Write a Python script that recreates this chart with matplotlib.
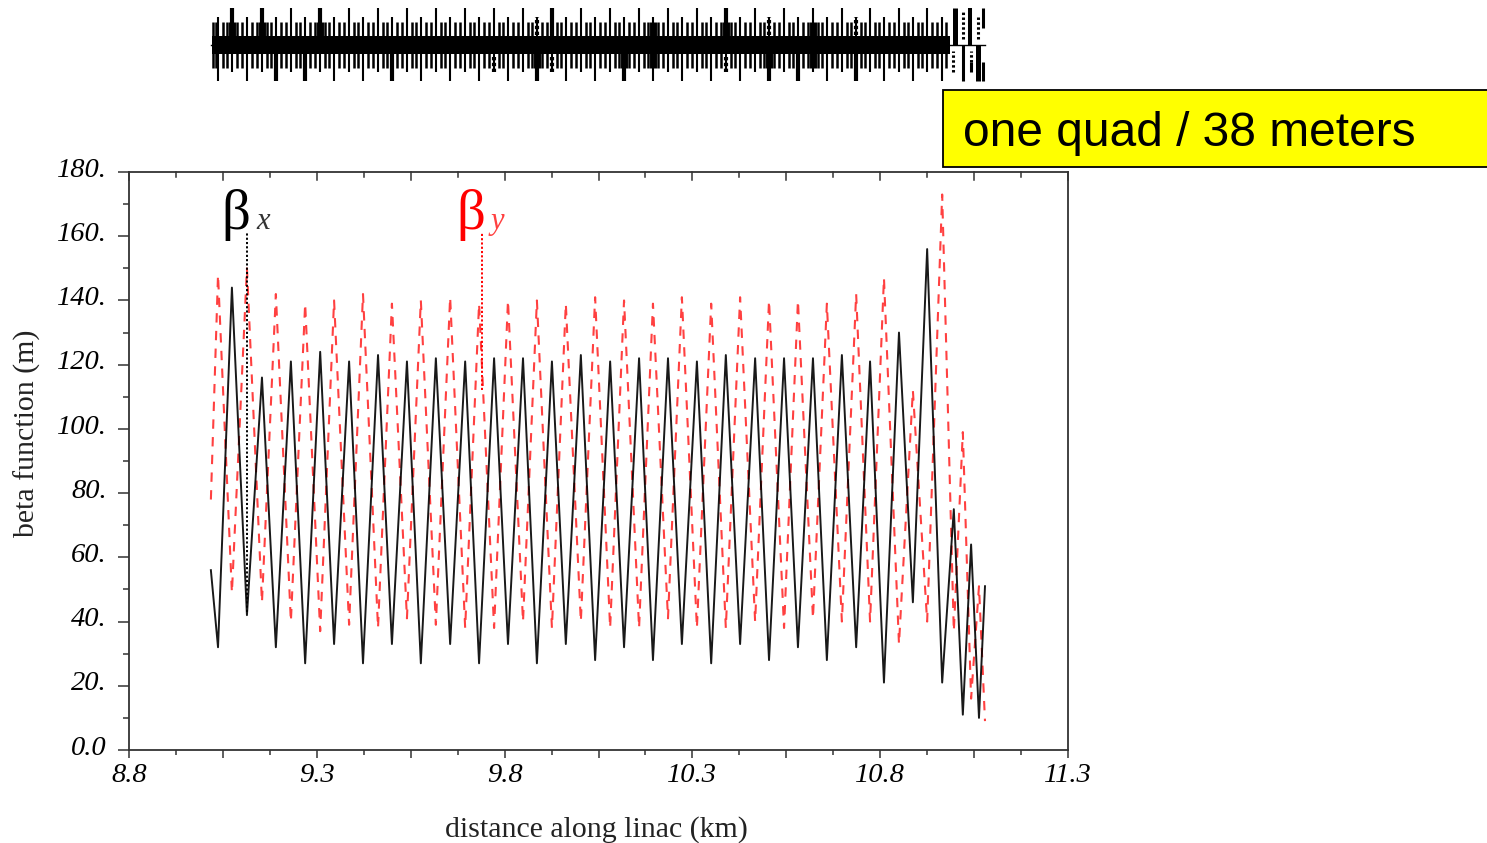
import numpy as np
import matplotlib
matplotlib.use("Agg")
import matplotlib.pyplot as plt
from matplotlib.patches import Rectangle
from matplotlib.transforms import ScaledTranslation

# nodes of the optics, km along the linac
s_km = [9.018, 9.037, 9.074, 9.114, 9.154, 9.191, 9.231, 9.269, 9.309, 9.346,
        9.386, 9.423, 9.463, 9.500, 9.540, 9.577, 9.617, 9.655, 9.695, 9.732,
        9.772, 9.809, 9.849, 9.886, 9.926, 9.963, 10.003, 10.041, 10.081, 10.118,
        10.158, 10.195, 10.235, 10.272, 10.312, 10.350, 10.389, 10.427, 10.467, 10.504,
        10.544, 10.581, 10.621, 10.658, 10.698, 10.736, 10.773, 10.810, 10.850, 10.887,
        10.925, 10.965, 10.996, 11.020, 11.042, 11.063, 11.079]
beta_x = [56, 32, 144, 42, 116, 32, 121, 27, 124, 33,
          121, 27, 123, 33, 121, 27, 122, 33, 121, 27,
          122, 33, 122, 27, 121, 33, 123, 28, 121, 32,
          122, 28, 122, 33, 121, 27, 123, 33, 122, 28,
          122, 32, 122, 28, 123, 32, 121, 21, 130, 46,
          156, 21, 75, 11, 64, 10, 51]
beta_y = [78, 148, 49, 150, 46, 142, 40, 139, 37, 140,
          39, 142, 38, 139, 41, 140, 39, 141, 38, 139,
          38, 140, 40, 140, 38, 139, 40, 141, 38, 140,
          38, 139, 41, 141, 38, 139, 38, 141, 40, 140,
          38, 140, 41, 139, 40, 142, 40, 147, 33, 112,
          40, 173, 37, 99, 16, 51, 9]

x_major = [8.8, 9.3, 9.8, 10.3, 10.8, 11.3]
x_labels = ["8.8", "9.3", "9.8", "10.3", "10.8", "11.3"]
x_mid = [9.05, 9.55, 10.05, 10.55, 11.05]
x_minor = [8.925, 9.175, 9.425, 9.675, 9.925, 10.175, 10.425, 10.675, 10.925, 11.175]
y_major = [0, 20, 40, 60, 80, 100, 120, 140, 160, 180]
y_labels = ["0.0", "20.", "40.", "60.", "80.", "100.", "120.", "140.", "160.", "180."]
y_minor = [10, 30, 50, 70, 90, 110, 130, 150, 170]

# lattice strip: regular part and the heavier elements in it
band_start, band_end = 9.018, 10.987
top_thick = [9.074, 9.154, 9.309, 9.926, 10.389]
bot_thick = [9.191, 9.269, 9.500, 9.886, 10.118, 10.504, 10.581, 10.736]
top_wide = [9.074, 9.154, 9.309, 10.195, 10.389, 10.621]
bot_wide = [9.886, 10.118, 10.195, 10.504, 10.621]
top_dotted = [9.886, 10.504, 10.736]
bot_dotted = [9.772, 9.926, 10.389]

# end of the linac, the elements do not repeat there
end_x = [10.999, 11.039, 11.074, 11.020, 11.060, 11.074, 11.042]
end_lo = [0, 0, 17, 0, 0, -36, -27]
end_hi = [37, 37, 37, -36, -36, -17, -17]
end_w = [3.6, 2.9, 2.2, 2.2, 3.6, 2.2, 2.2]
end_dot_x = [11.020, 11.060, 10.994, 11.042]
end_dot_lo = [6, 6, -27, -17]
end_dot_hi = [33, 30, -6, -6]

W, H = 1487, 843
plt.rcParams['font.family'] = ['Liberation Serif', 'DejaVu Sans']
fig = plt.figure(figsize=(W / 100, H / 100), dpi=100)


def fx(px):
    return px / W


def fy(py):
    return 1 - py / H


ax = fig.add_axes([fx(129), fy(750), (1068 - 129) / W, (750 - 172) / H])
ax.plot(s_km, beta_y, color='#ff0000', lw=1.5, dashes=(4.5, 4), alpha=0.75)
ax.plot(s_km, beta_x, color='black', lw=1.4, alpha=0.9)
ax.set_xlim(8.8, 11.3)
ax.set_ylim(0, 180)

ax.set_xticks(x_major)
ax.set_xticklabels(x_labels, fontsize=20.5, style='italic')
ax.set_yticks(y_major)
ax.set_yticklabels(y_labels, fontsize=20.5, style='italic')
ax.set_yticks(y_minor, minor=True)
ax.set_xticks(x_mid + x_minor, minor=True)
ax.tick_params(axis='x', which='major', length=6, width=1.1, pad=3, color='#333333')
ax.tick_params(axis='x', which='minor', length=3.5, width=1.1, color='#333333')
ax.tick_params(axis='y', which='major', length=8, width=1.1, pad=8, color='#333333')
ax.tick_params(axis='y', which='minor', length=4, width=1.1, color='#333333')
for tick in ax.xaxis.get_minorticklines()[:2 * len(x_mid)]:
    tick.set_markersize(6)
shift_up = ScaledTranslation(0, 3.5 / 72, fig.dpi_scale_trans)
for lab in ax.get_yticklabels():
    lab.set_transform(lab.get_transform() + shift_up)
# same ticks hanging from the top edge
for x in x_major + x_mid:
    ax.plot([x, x], [180, 180 - 8 / 3.21], color='#333333', lw=1.1, clip_on=False)
for x in x_minor:
    ax.plot([x, x], [180, 180 - 5 / 3.21], color='#333333', lw=1.1, clip_on=False)
for side in ax.spines.values():
    side.set_linewidth(1.3)
    side.set_color('#333333')

ax.plot([9.114, 9.114], [43, 161], color='black', lw=1.4, dashes=(1.1, 1.1))
ax.plot([9.740, 9.740], [112, 161], color='#ff0000', lw=1.4, dashes=(1.1, 1.1))

fig.text(fx(221), fy(229), "\u03b2", fontsize=41, color='black')
fig.text(fx(256), fy(229), "x", fontsize=22, style='italic', color='#333333')
fig.text(fx(456), fy(229), "\u03b2", fontsize=41, color='#ff0000')
fig.text(fx(491), fy(229), "y", fontsize=22, style='italic', color='#ff4040')

fig.text(fx(596), fy(830), "distance along linac (km)", fontsize=21.5, ha='center', va='center',
         color='#222222')
fig.text(fx(27), fy(433), "beta function (m)", fontsize=21.5, rotation=90, ha='center', va='center',
         color='#222222')

# lattice strip above the plot, sharing the km scale
lat = fig.add_axes([fx(129), fy(90), (1068 - 129) / W, 90 / H])
lat.set_xlim(8.8, 11.3)
lat.set_ylim(-45, 45)
lat.axis('off')
lat.fill_between([band_start + 0.002, band_end], -9, 9, color='black', lw=0)
lat.plot([band_start, 11.079], [0, 0], color='black', lw=1.0)

nodes = s_km[1:52]
for i in range(len(nodes) - 1):
    for frac in (1 / 3, 2 / 3):
        x = nodes[i] + frac * (nodes[i + 1] - nodes[i])
        lat.vlines(x, -23, 23, color='black', lw=1.8)
lat.vlines([9.024, 9.031], -23, 23, color='black', lw=1.8)
lat.vlines([10.975], -23, 23, color='black', lw=1.8)

for i, x in enumerate(nodes):
    if i % 2 == 0:  # vertical focusing quads, long side down
        lo, hi = -36, 28
    else:
        lo, hi = -27, 37
    lat.vlines(x, lo, hi, color='black', lw=1.5)

lat.vlines(top_thick, 0, 37, color='black', lw=3.0)
lat.vlines(bot_thick, -36, 0, color='black', lw=3.0)
lat.vlines(top_wide, 0, 23, color='black', lw=5.0)
lat.vlines(bot_wide, -23, 0, color='black', lw=5.0)
lat.vlines(top_dotted, 10, 28, color='black', lw=3.0, linestyles=[(0, (0.8, 0.6))])
lat.vlines(bot_dotted, -27, -10, color='black', lw=3.0, linestyles=[(0, (0.8, 0.6))])

for x, lo, hi, w in zip(end_x, end_lo, end_hi, end_w):
    lat.vlines(x, lo, hi, color='black', lw=w)
lat.vlines(end_dot_x, end_dot_lo, end_dot_hi, color='black', lw=2.2, linestyles=[(0, (0.8, 0.8))])

fig.add_artist(Rectangle((fx(943), fy(167)), (1487 - 943 + 5) / W, 77 / H, transform=fig.transFigure,
                         facecolor='#ffff00', edgecolor='black', lw=1.3))
fig.text(fx(963), fy(134), "one quad / 38 meters", fontsize=34.5, family='Liberation Sans',
         ha='left', va='center', color='black')

fig.savefig("out.png", dpi=100)
